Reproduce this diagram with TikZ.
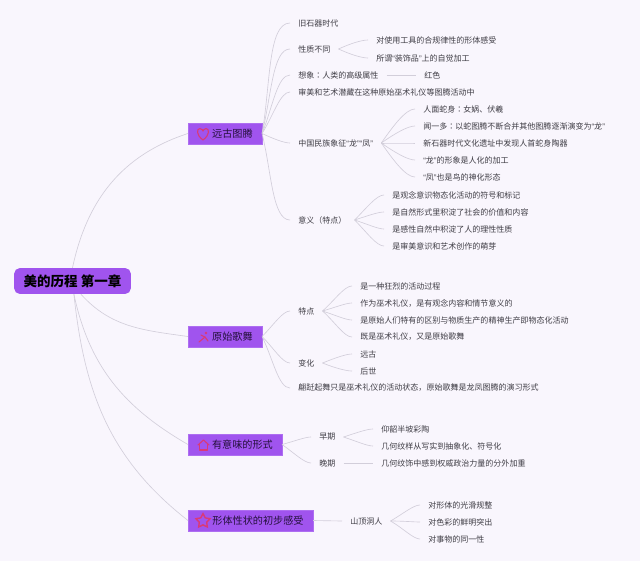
\documentclass[tikz,border=0pt]{standalone}
\usepackage{fontspec}
\setmainfont{Noto Sans CJK SC}
\newfontfamily\quotefont{Liberation Sans}
\newfontfamily\colonfont{Noto Sans CJK TC}
\usepackage{xcolor}
\usetikzlibrary{shapes.geometric}
\definecolor{paperc}{HTML}{F9F6FD}
\definecolor{boxc}{HTML}{A054EE}
\definecolor{linkc}{HTML}{D2CEDA}
\definecolor{iconc}{HTML}{D93A78}
\definecolor{leafc}{HTML}{3F3D45}
\definecolor{inkc}{HTML}{24103C}
\newcommand{\qopen}{{\quotefont “}}
\newcommand{\qclose}{{\quotefont ”}}
\newcommand{\kcolon}{{\colonfont ：}}

\begin{document}
\begin{tikzpicture}[x=0.025cm,y=-0.025cm,
  rootbox/.style={fill=boxc, rounded corners=4pt, minimum width=83pt, minimum height=18.4pt, inner sep=0pt, text=black, font=\fontsize{9.6}{11}\selectfont\bfseries},
  branchbox/.style={fill=boxc, draw=boxc!85!white, line width=0.3pt, minimum height=14.9pt, inner sep=0pt, text=inkc, font=\fontsize{7.2}{9}\selectfont},
  leaf/.style={anchor=west, inner xsep=5.67pt, inner ysep=1pt, text=leafc, font=\fontsize{5.7}{7}\selectfont},
  link/.style={draw=linkc, line width=0.45pt},
  fan/.style={link, out=#1, in=180, out looseness=1.1, in looseness=0.5},
  icon/.style={draw=iconc, line width=0.8pt, line join=round, line cap=round}]
  \fill[paperc] (0,0) rectangle (640,561);

  % root and main branches
  \node[rootbox] (root) at (72.5,281) {美的历程 第一章};
  \node[branchbox, minimum width=52.4pt] (yuangu) at (225,133.5) {\hspace{10.6pt}远古图腾};
  \node[branchbox, minimum width=52.4pt] (gewu) at (225,336.5) {\hspace{10.6pt}原始歌舞};
  \node[branchbox, minimum width=66.6pt] (xingshi) at (235,444.5) {\hspace{10.6pt}有意味的形式};
  \node[branchbox, minimum width=88.6pt] (xingti) at (250.5,520.5) {\hspace{10.6pt}形体性状的初步感受};
  \draw[link] (root.north) to[out=78,in=198] (yuangu.west);
  \draw[link] ([xshift=6pt]root.south) to[out=-48,in=172] (gewu.west);
  \draw[link] ([xshift=1pt]root.south) to[out=-78,in=150] (xingshi.west);
  \draw[link] ([xshift=1pt]root.south) to[out=-84,in=142] (xingti.west);

  % icons
  \draw[icon] (203,140) .. controls (196,135) and (196.5,128.5) .. (200,128.5) .. controls (202,128.5) and (203,131) .. (203,131) .. controls (203,131) and (204,128.5) .. (206,128.5) .. controls (209.5,128.5) and (210,135) .. (203,140) -- cycle;
  \draw[icon] (199,342) -- (205,337) -- (208,341);
  \draw[icon] (201,335) -- (205,337);
  \fill[iconc] (206,333) circle (1.4);
  \draw[icon] (198,445) -- (203.5,440) -- (209,445);
  \draw[icon] (199.5,444) -- (199.5,450) -- (207.5,450) -- (207.5,444);
  \node[star, star points=5, star point ratio=1.9, draw=iconc, line width=1pt, minimum size=10.5pt, inner sep=0pt] (staricon) at (203,521) {};

  % yuangu
  \node[leaf] (jiushi) at (290,23) {旧石器时代};
  \node[leaf] (xingzhi) at (290,49) {性质不同};
  \node[leaf] (gongju) at (368,40) {对使用工具的合规律性的形体感受};
  \node[leaf] (zhuangshi) at (368,58) {所谓\qopen 装饰品\qclose 上的自觉加工};
  \node[leaf] (xiangxiang) at (290,75) {想象\kcolon 人类的高级属性};
  \node[leaf] (hongse) at (416,75) {红色};
  \node[leaf] (shenmei) at (290,92) {审美和艺术潜藏在这种原始巫术礼仪等图腾活动中};
  \node[leaf] (xiangzheng) at (290,143) {中国民族象征\qopen 龙\qclose\qopen 凤\qclose};
  \node[leaf] (renmian) at (415,109) {人面蛇身\kcolon 女娲、伏羲};
  \node[leaf] (wenyiduo) at (415,126) {闻一多\kcolon 以蛇图腾不断合并其他图腾逐渐演变为\qopen 龙\qclose};
  \node[leaf] (xinshi) at (415,143) {新石器时代文化遗址中发现人首蛇身陶器};
  \node[leaf] (long) at (415,160) {\qopen 龙\qclose 的形象是人化的加工};
  \node[leaf] (feng) at (415,177) {\qopen 凤\qclose 也是鸟的神化形态};
  \node[leaf] (yiyi) at (290,220) {意义（特点）};
  \node[leaf] (fuhao) at (384,195) {是观念意识物态化活动的符号和标记};
  \node[leaf] (jidian) at (384,212) {是自然形式里积淀了社会的价值和内容};
  \node[leaf] (ganxing) at (384,229) {是感性自然中积淀了人的理性性质};
  \node[leaf] (mengya) at (384,246) {是审美意识和艺术创作的萌芽};
  \draw[fan=80] (yuangu.east) to (jiushi.west);
  \draw[fan=76] (yuangu.east) to (xingzhi.west);
  \draw[fan=68] (yuangu.east) to (xiangxiang.west);
  \draw[fan=58] (yuangu.east) to (shenmei.west);
  \draw[fan=-25] (yuangu.east) to (xiangzheng.west);
  \draw[fan=-76] (yuangu.east) to (yiyi.west);
  \draw[fan=25] (xingzhi.east) to (gongju.west);
  \draw[fan=-25] (xingzhi.east) to (zhuangshi.west);
  \draw[link] (xiangxiang.east) -- (hongse.west);
  \draw[fan=55] (xiangzheng.east) to (renmian.west);
  \draw[fan=35] (xiangzheng.east) to (wenyiduo.west);
  \draw[fan=0] (xiangzheng.east) to (xinshi.west);
  \draw[fan=-35] (xiangzheng.east) to (long.west);
  \draw[fan=-55] (xiangzheng.east) to (feng.west);
  \draw[fan=45] (yiyi.east) to (fuhao.west);
  \draw[fan=18] (yiyi.east) to (jidian.west);
  \draw[fan=-18] (yiyi.east) to (ganxing.west);
  \draw[fan=-45] (yiyi.east) to (mengya.west);

  % gewu
  \node[leaf] (tedian) at (290,311) {特点};
  \node[leaf] (kuanglie) at (352,286) {是一种狂烈的活动过程};
  \node[leaf] (wushu) at (352,303) {作为巫术礼仪，是有观念内容和情节意义的};
  \node[leaf] (qubie) at (352,320) {是原始人们特有的区别与物质生产的精神生产即物态化活动};
  \node[leaf] (jishi) at (352,337) {既是巫术礼仪，又是原始歌舞};
  \node[leaf] (bianhua) at (290,363) {变化};
  \node[leaf] (yuangu2) at (352,354) {远古};
  \node[leaf] (houshi) at (352,371) {后世};
  \node[leaf] (pianxian) at (290,388) {翩跹起舞只是巫术礼仪的活动状态，原始歌舞是龙凤图腾的演习形式};
  \draw[fan=45] (gewu.east) to (tedian.west);
  \draw[fan=-45] (gewu.east) to (bianhua.west);
  \draw[fan=-64] (gewu.east) to (pianxian.west);
  \draw[fan=42] (tedian.east) to (kuanglie.west);
  \draw[fan=16] (tedian.east) to (wushu.west);
  \draw[fan=-18] (tedian.east) to (qubie.west);
  \draw[fan=-42] (tedian.east) to (jishi.west);
  \draw[fan=22] (bianhua.east) to (yuangu2.west);
  \draw[fan=-22] (bianhua.east) to (houshi.west);

  % xingshi
  \node[leaf] (zaoqi) at (311,437) {早期};
  \node[leaf] (yangshao) at (373,429) {仰韶半坡彩陶};
  \node[leaf] (jihe) at (373,446) {几何纹样从写实到抽象化、符号化};
  \node[leaf] (wanqi) at (311,463) {晚期};
  \node[leaf] (wenshi) at (373,463) {几何纹饰中感到权威政治力量的分外加重};
  \draw[fan=15] (xingshi.east) to (zaoqi.west);
  \draw[fan=-35] (xingshi.east) to (wanqi.west);
  \draw[fan=18] (zaoqi.east) to (yangshao.west);
  \draw[fan=-18] (zaoqi.east) to (jihe.west);
  \draw[link] (wanqi.east) -- (wenshi.west);

  % xingti
  \node[leaf] (shanding) at (342,521) {山顶洞人};
  \node[leaf] (guanghua) at (420,505) {对形体的光滑规整};
  \node[leaf] (secai) at (420,522) {对色彩的鲜明突出};
  \node[leaf] (tongyi) at (420,539) {对事物的同一性};
  \draw[link] (xingti.east) -- (shanding.west);
  \draw[fan=30] (shanding.east) to (guanghua.west);
  \draw[fan=0] (shanding.east) to (secai.west);
  \draw[fan=-30] (shanding.east) to (tongyi.west);
\end{tikzpicture}
\end{document}
